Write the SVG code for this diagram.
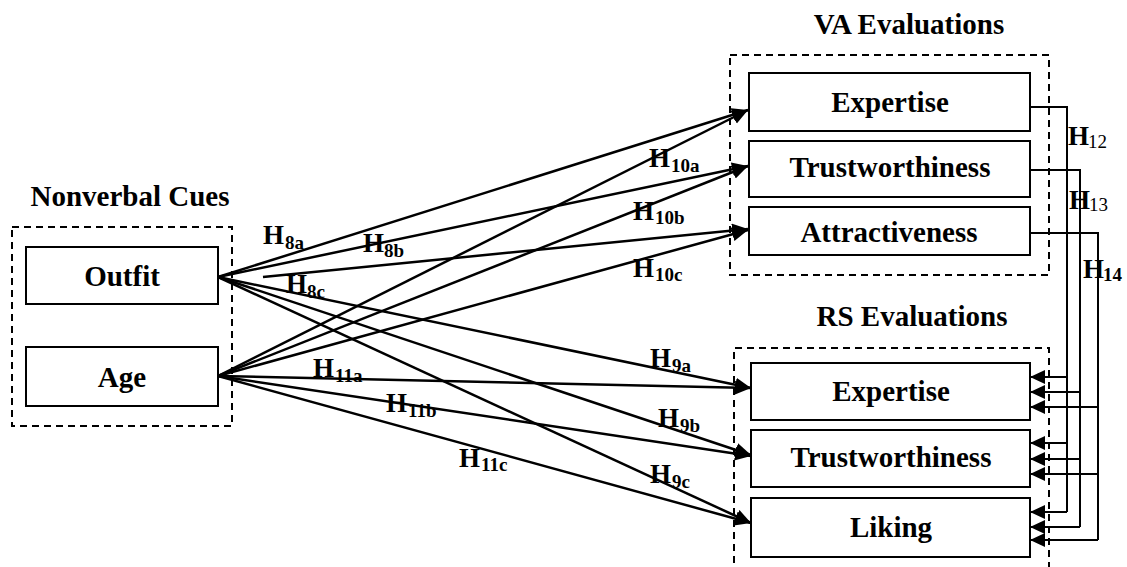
<svg xmlns="http://www.w3.org/2000/svg" width="1127" height="567" viewBox="0 0 1127 567">
  <defs>
    <style>
      .t { font-family: "Liberation Serif", "Times New Roman", serif; font-weight: bold; fill: #000; }
      .title { font-size: 29px; text-anchor: middle; }
      .node { font-size: 29px; text-anchor: middle; }
      .h { font-size: 27px; }
      .sub { font-size: 19px; }
      .box { fill: #fff; stroke: #000; stroke-width: 2; }
      .group { fill: none; stroke: #000; stroke-width: 2; stroke-dasharray: 7 5; }
      .path { fill: none; stroke: #000; stroke-width: 2.5; marker-end: url(#head); }
      .link { fill: none; stroke: #000; stroke-width: 2; }
      .back { fill: none; stroke: #000; stroke-width: 2; marker-end: url(#headS); }
    </style>
    <marker id="head" markerUnits="userSpaceOnUse" markerWidth="18" markerHeight="16" refX="16" refY="7" orient="auto">
      <path d="M0,0 L16,7 L0,14 z" fill="#000"/>
    </marker>
    <marker id="headS" markerUnits="userSpaceOnUse" markerWidth="18" markerHeight="16" refX="15" refY="7" orient="auto">
      <path d="M0,0 L15,7 L0,14 z" fill="#000"/>
    </marker>
  </defs>

  <rect width="1127" height="567" fill="#fff"/>

  <!-- group frames and titles -->
  <g id="group-nonverbal">
    <rect class="group" x="12" y="227" width="220" height="199"/>
    <text class="t title" x="130" y="206">Nonverbal Cues</text>
  </g>
  <g id="group-va">
    <rect class="group" x="730" y="55" width="319" height="220"/>
    <text class="t title" x="909" y="34">VA Evaluations</text>
  </g>
  <g id="group-rs">
    <path class="group" d="M734,575 V348 H1049 V575"/>
    <text class="t title" x="912" y="326">RS Evaluations</text>
  </g>

  <!-- connectors -->
  <g id="connectors">
    <!-- Outfit -->
    <line class="path" x1="218" y1="277" x2="748" y2="110"/>
    <line class="path" x1="218" y1="277" x2="748" y2="166"/>
    <line class="path" x1="263" y1="277" x2="748" y2="229"/>
    <line class="path" x1="218" y1="277" x2="751" y2="388"/>
    <line class="path" x1="218" y1="277" x2="751" y2="455"/>
    <line class="path" x1="218" y1="277" x2="751" y2="523"/>
    <!-- Age -->
    <line class="path" x1="218" y1="376" x2="748" y2="110"/>
    <line class="path" x1="218" y1="376" x2="748" y2="166"/>
    <line class="path" x1="218" y1="376" x2="748" y2="230"/>
    <line class="path" x1="218" y1="376" x2="751" y2="388"/>
    <line class="path" x1="218" y1="376" x2="751" y2="456"/>
    <line class="path" x1="218" y1="376" x2="751" y2="523"/>

    <!-- VA to RS feedback paths -->
    <path class="link" d="M1030,107 H1067 V512"/>
    <path class="link" d="M1030,170 H1080 V527"/>
    <path class="link" d="M1030,233 H1098 V540"/>
    <line class="back" x1="1067" y1="377" x2="1030" y2="377"/>
    <line class="back" x1="1080" y1="392" x2="1030" y2="392"/>
    <line class="back" x1="1098" y1="407" x2="1030" y2="407"/>
    <line class="back" x1="1067" y1="443" x2="1030" y2="443"/>
    <line class="back" x1="1080" y1="459" x2="1030" y2="459"/>
    <line class="back" x1="1098" y1="474" x2="1030" y2="474"/>
    <line class="back" x1="1067" y1="512" x2="1030" y2="512"/>
    <line class="back" x1="1080" y1="527" x2="1030" y2="527"/>
    <line class="back" x1="1098" y1="540" x2="1030" y2="540"/>
  </g>

  <!-- nodes -->
  <g id="outfit">
    <rect class="box" x="26" y="247" width="192" height="57"/>
    <text class="t node" x="122" y="286">Outfit</text>
  </g>
  <g id="age">
    <rect class="box" x="26" y="347" width="192" height="59"/>
    <text class="t node" x="122" y="387">Age</text>
  </g>
  <g id="va-expertise">
    <rect class="box" x="749" y="73" width="281" height="58"/>
    <text class="t node" x="890" y="112">Expertise</text>
  </g>
  <g id="va-trustworthiness">
    <rect class="box" x="749" y="141" width="281" height="56"/>
    <text class="t node" x="890" y="177">Trustworthiness</text>
  </g>
  <g id="va-attractiveness">
    <rect class="box" x="749" y="207" width="281" height="48"/>
    <text class="t node" x="889" y="242">Attractiveness</text>
  </g>
  <g id="rs-expertise">
    <rect class="box" x="751" y="363" width="279" height="57"/>
    <text class="t node" x="891" y="401">Expertise</text>
  </g>
  <g id="rs-trustworthiness">
    <rect class="box" x="751" y="430" width="279" height="57"/>
    <text class="t node" x="891" y="467">Trustworthiness</text>
  </g>
  <g id="rs-liking">
    <rect class="box" x="751" y="498" width="279" height="59"/>
    <text class="t node" x="891" y="537">Liking</text>
  </g>

  <!-- hypothesis labels -->
  <g id="labels">
    <text class="t"><tspan class="h" x="263" y="244">H</tspan><tspan class="sub" x="285" y="249">8a</tspan></text>
    <text class="t"><tspan class="h" x="363" y="252">H</tspan><tspan class="sub" x="384" y="257">8b</tspan></text>
    <text class="t"><tspan class="h" x="286" y="293">H</tspan><tspan class="sub" x="307" y="298">8c</tspan></text>
    <text class="t"><tspan class="h" x="650" y="367">H</tspan><tspan class="sub" x="672" y="372">9a</tspan></text>
    <text class="t"><tspan class="h" x="658" y="427">H</tspan><tspan class="sub" x="680" y="432">9b</tspan></text>
    <text class="t"><tspan class="h" x="650" y="483">H</tspan><tspan class="sub" x="672" y="488">9c</tspan></text>
    <text class="t"><tspan class="h" x="649" y="167">H</tspan><tspan class="sub" x="671" y="172">10a</tspan></text>
    <text class="t"><tspan class="h" x="633" y="220">H</tspan><tspan class="sub" x="655" y="224">10b</tspan></text>
    <text class="t"><tspan class="h" x="633" y="277">H</tspan><tspan class="sub" x="655" y="281">10c</tspan></text>
    <text class="t"><tspan class="h" x="313" y="377">H</tspan><tspan class="sub" x="335" y="382">11a</tspan></text>
    <text class="t"><tspan class="h" x="386" y="412">H</tspan><tspan class="sub" x="408" y="417">11b</tspan></text>
    <text class="t"><tspan class="h" x="459" y="467">H</tspan><tspan class="sub" x="481" y="471">11c</tspan></text>
    <text class="t"><tspan class="h" x="1068" y="145" font-size="25">H</tspan><tspan x="1088" y="148" font-size="19" font-weight="normal">12</tspan></text>
    <text class="t"><tspan class="h" x="1069" y="209" font-size="25">H</tspan><tspan x="1089" y="211" font-size="19" font-weight="normal">13</tspan></text>
    <text class="t"><tspan class="h" x="1083" y="278" font-size="25">H</tspan><tspan x="1103" y="281" font-size="19">14</tspan></text>
  </g>
</svg>
